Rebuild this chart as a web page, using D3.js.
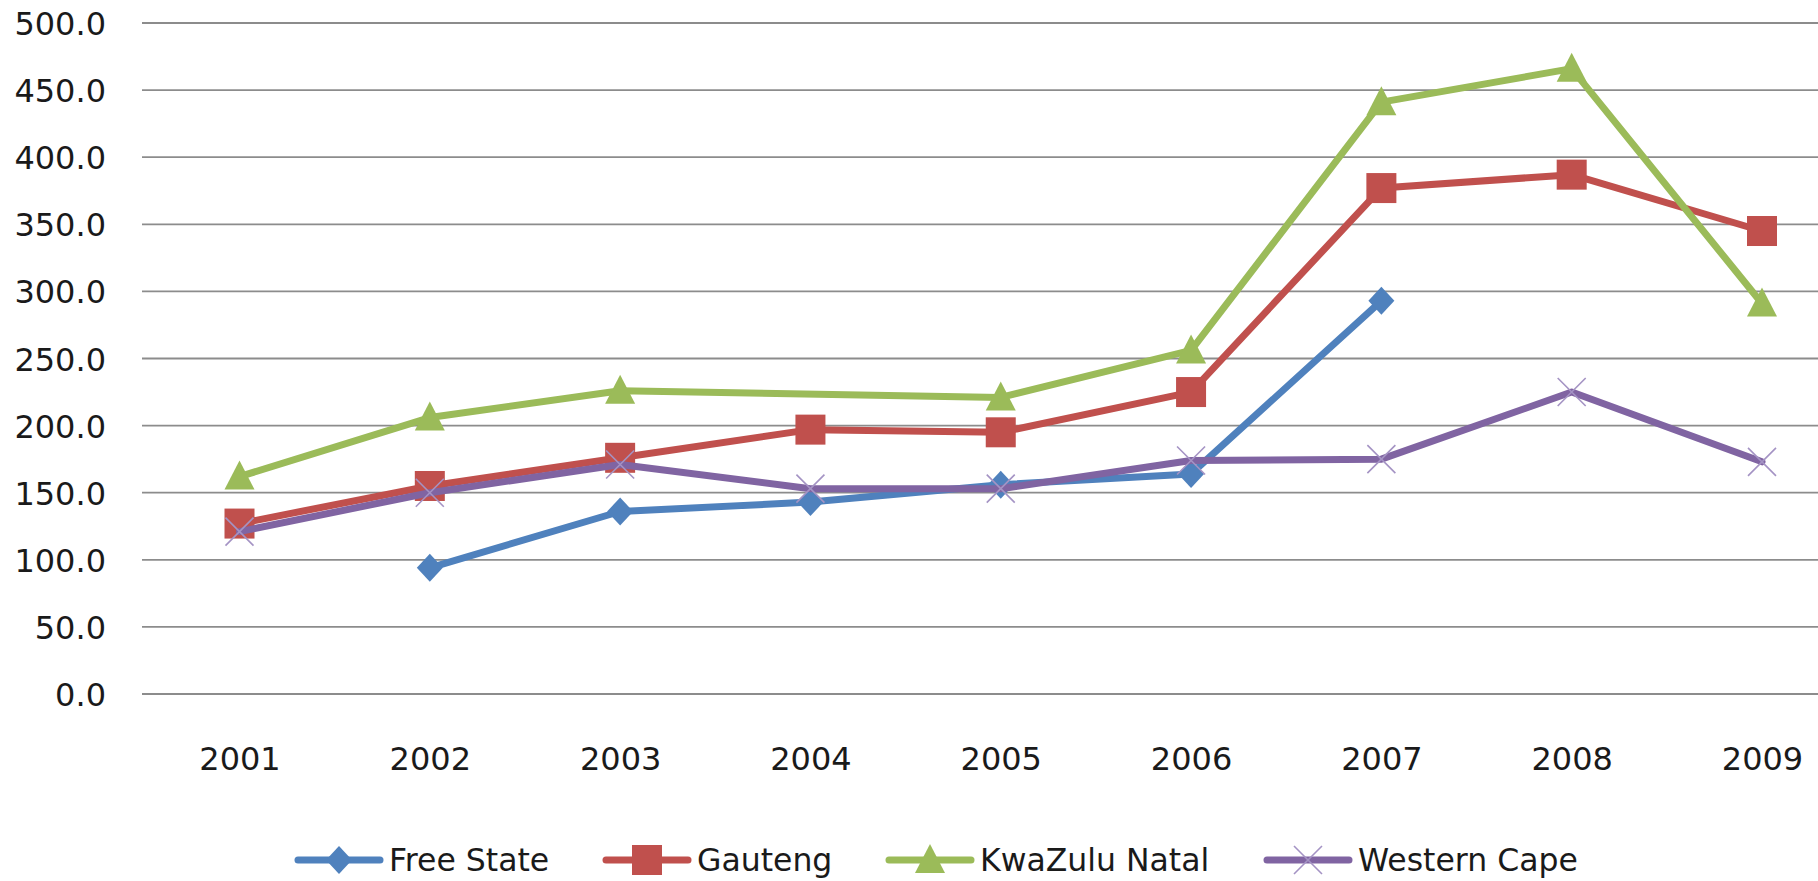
<!DOCTYPE html>
<html>
<head>
<meta charset="utf-8">
<script src="https://cdn.jsdelivr.net/npm/d3@7"></script>
<style>
  html, body { margin: 0; padding: 0; background: #fff; overflow: hidden; }
  svg { display: block; }
  text { font-family: "DejaVu Sans", sans-serif; fill: #1a1a1a; }
</style>
</head>
<body>
<svg id="chart" width="1818" height="881"></svg>
<script>
const years = ["2001","2002","2003","2004","2005","2006","2007","2008","2009"];
const freeState   = [null, 94, 136, 143, 156, 164, 293, null, null];
const gauteng     = [127, 155, 176, 197, 195, 225, 377, 387, 345];
const kwaZulu     = [162, 206, 226, null, 221, 256, 441, 466, 291];
const westernCape = [121, 150, 171, 153, 153, 174, 175, 225, 173];
const seriesNames = ["Free State", "Gauteng", "KwaZulu Natal", "Western Cape"];
const yTicks = [0, 50, 100, 150, 200, 250, 300, 350, 400, 450, 500];

const series = [
  { name: seriesNames[0], values: freeState,   color: "#4F81BD", marker: "diamond" },
  { name: seriesNames[1], values: gauteng,     color: "#C0504D", marker: "square" },
  { name: seriesNames[2], values: kwaZulu,     color: "#9BBB59", marker: "triangle" },
  { name: seriesNames[3], values: westernCape, color: "#8064A2", marker: "x" }
];

const svg = d3.select("#chart");
const gridLeft = 142, plotRight = 1857;
const x = d3.scalePoint().domain(years).range([239.5, 1762]);
const y = d3.scaleLinear().domain([0, 500]).range([694, 23]);

// gridlines
svg.append("g").selectAll("line").data(yTicks).join("line")
  .attr("x1", gridLeft).attr("x2", plotRight)
  .attr("y1", d => y(d)).attr("y2", d => y(d))
  .attr("stroke", "#8c8c8c").attr("stroke-width", 1.8);

// y axis labels
const yAxis = d3.axisLeft(y).tickValues(yTicks).tickFormat(d3.format(".1f")).tickSize(0).tickPadding(0);
const yg = svg.append("g").attr("transform", "translate(106,0)").call(yAxis);
yg.select(".domain").remove();
yg.selectAll("text").attr("font-size", 32).attr("font-family", "DejaVu Sans").attr("fill", "#1a1a1a")
  .attr("dy", "0.36em");

// x axis labels
const xAxis = d3.axisBottom(x).tickSize(0).tickPadding(0);
const xg = svg.append("g").attr("transform", "translate(0,770)").call(xAxis);
xg.select(".domain").remove();
xg.selectAll("text").attr("font-size", 32).attr("font-family", "DejaVu Sans").attr("fill", "#1a1a1a")
  .attr("dy", 0).attr("y", 0);

function drawMarker(g, type, cx, cy, color) {
  if (type === "diamond") {
    g.append("path").attr("d", `M${cx},${cy-14}L${cx+13},${cy}L${cx},${cy+14}L${cx-13},${cy}Z`).attr("fill", color);
  } else if (type === "square") {
    g.append("rect").attr("x", cx-15).attr("y", cy-15).attr("width", 30).attr("height", 30).attr("fill", color);
  } else if (type === "triangle") {
    g.append("path").attr("d", `M${cx},${cy-16}L${cx+15},${cy+13}L${cx-15},${cy+13}Z`).attr("fill", color);
  } else if (type === "x") {
    g.append("path").attr("d", `M${cx-14},${cy-14}L${cx+14},${cy+14}M${cx-14},${cy+14}L${cx+14},${cy-14}`)
      .attr("stroke", "#a493c4").attr("stroke-width", 1.6).attr("fill", "none");
  }
}

const line = d3.line().x(d => x(d.year)).y(d => y(d.v));

series.forEach(s => {
  const pts = years.map((yr, i) => ({ year: yr, v: s.values[i] })).filter(d => d.v !== null);
  const g = svg.append("g");
  g.append("path").datum(pts).attr("d", line)
    .attr("fill", "none").attr("stroke", s.color).attr("stroke-width", 7)
    .attr("stroke-linejoin", "round").attr("stroke-linecap", "round");
  pts.forEach(p => drawMarker(g, s.marker, x(p.year), y(p.v), s.color));
});

// legend
const legY = 860;
const legStarts = [298, 606, 889, 1267];
series.forEach((s, i) => {
  const lx = legStarts[i];
  const g = svg.append("g");
  g.append("line").attr("x1", lx).attr("x2", lx + 82).attr("y1", legY).attr("y2", legY)
    .attr("stroke", s.color).attr("stroke-width", 7).attr("stroke-linecap", "round");
  drawMarker(g, s.marker, lx + 41, legY, s.color);
  g.append("text").attr("x", lx + 91).attr("y", legY).attr("dy", "0.36em")
    .attr("font-size", 31.5).text(s.name);
});
</script>
</body>
</html>
